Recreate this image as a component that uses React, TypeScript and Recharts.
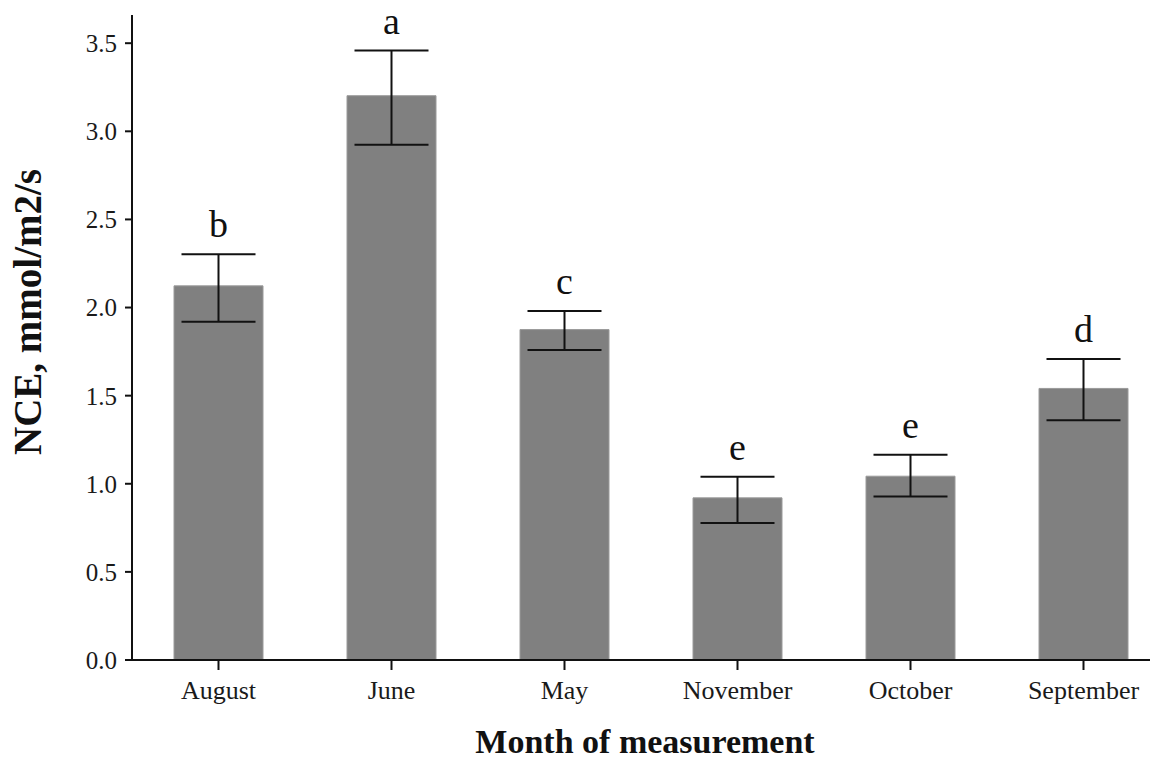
import {
  ComposedChart,
  Bar,
  Line,
  XAxis,
  YAxis,
  ErrorBar,
  LabelList,
  Label,
} from "recharts";

const months = ["August", "June", "May", "November", "October", "September"];
const nceMean = [2.123, 3.202, 1.875, 0.92, 1.043, 1.541];
const nceUpper = [2.303, 3.458, 1.981, 1.04, 1.165, 1.708];
const nceLower = [1.92, 2.924, 1.759, 0.778, 0.928, 1.361];
const groupLetters = ["b", "a", "c", "e", "e", "d"];
const yTicks = [0, 0.5, 1.0, 1.5, 2.0, 2.5, 3.0, 3.5];

const data = months.map((month, i) => ({
  month,
  nce: nceMean[i],
  err: [nceMean[i] - nceLower[i], nceUpper[i] - nceMean[i]],
  top: nceUpper[i],
  letter: groupLetters[i],
}));

const serif = '"Liberation Serif", "Times New Roman", serif';

export default function App() {
  return (
    <div
      style={{
        width: 1158,
        height: 759,
        overflow: "hidden",
        marginLeft: -8,
        marginTop: -8,
        background: "#fff",
        position: "relative",
      }}
    >
      <ComposedChart
        width={1172}
        height={759}
        data={data}
        margin={{ top: 15, right: 2, left: 0, bottom: 69 }}
      >
        <XAxis
          dataKey="month"
          height={30}
          axisLine={{ stroke: "#111", strokeWidth: 2 }}
          tickLine={{ stroke: "#111", strokeWidth: 2 }}
          tickSize={10}
          tickMargin={11}
          interval={0}
          tick={{ fill: "#1a1a1a", fontSize: 26, fontFamily: serif }}
        >
          <Label
            content={() => (
              <text
                x={645}
                y={753}
                textAnchor="middle"
                fontFamily={serif}
                fontWeight="bold"
                fontSize={34}
                fill="#111"
              >
                Month of measurement
              </text>
            )}
          />
        </XAxis>
        <YAxis
          width={132}
          domain={[0, 3.66]}
          ticks={yTicks}
          allowDataOverflow
          tickFormatter={(v: number) => v.toFixed(1)}
          axisLine={{ stroke: "#111", strokeWidth: 2 }}
          tickLine={{ stroke: "#111", strokeWidth: 2 }}
          tickSize={7}
          tickMargin={8}
          tick={{ fill: "#1a1a1a", fontSize: 25, fontFamily: serif }}
        >
          <Label
            content={() => (
              <text
                x={41}
                y={312}
                transform="rotate(-90 41 312)"
                textAnchor="middle"
                fontFamily={serif}
                fontWeight="bold"
                fontSize={39}
                fill="#111"
              >
                NCE, mmol/m2/s
              </text>
            )}
          />
        </YAxis>
        <Bar
          dataKey="nce"
          fill="#808080"
          stroke="#9a9a9a"
          strokeWidth={1}
          barSize={89}
          isAnimationActive={false}
        >
          <ErrorBar
            dataKey="err"
            width={37}
            stroke="#111"
            strokeWidth={2}
            direction="y"
          />
        </Bar>
        <Line
          dataKey="top"
          stroke="none"
          dot={false}
          activeDot={false}
          isAnimationActive={false}
        >
          <LabelList
            dataKey="letter"
            position="top"
            offset={17}
            fill="#111"
            fontSize={38}
            fontFamily={serif}
          />
        </Line>
      </ComposedChart>
    </div>
  );
}
